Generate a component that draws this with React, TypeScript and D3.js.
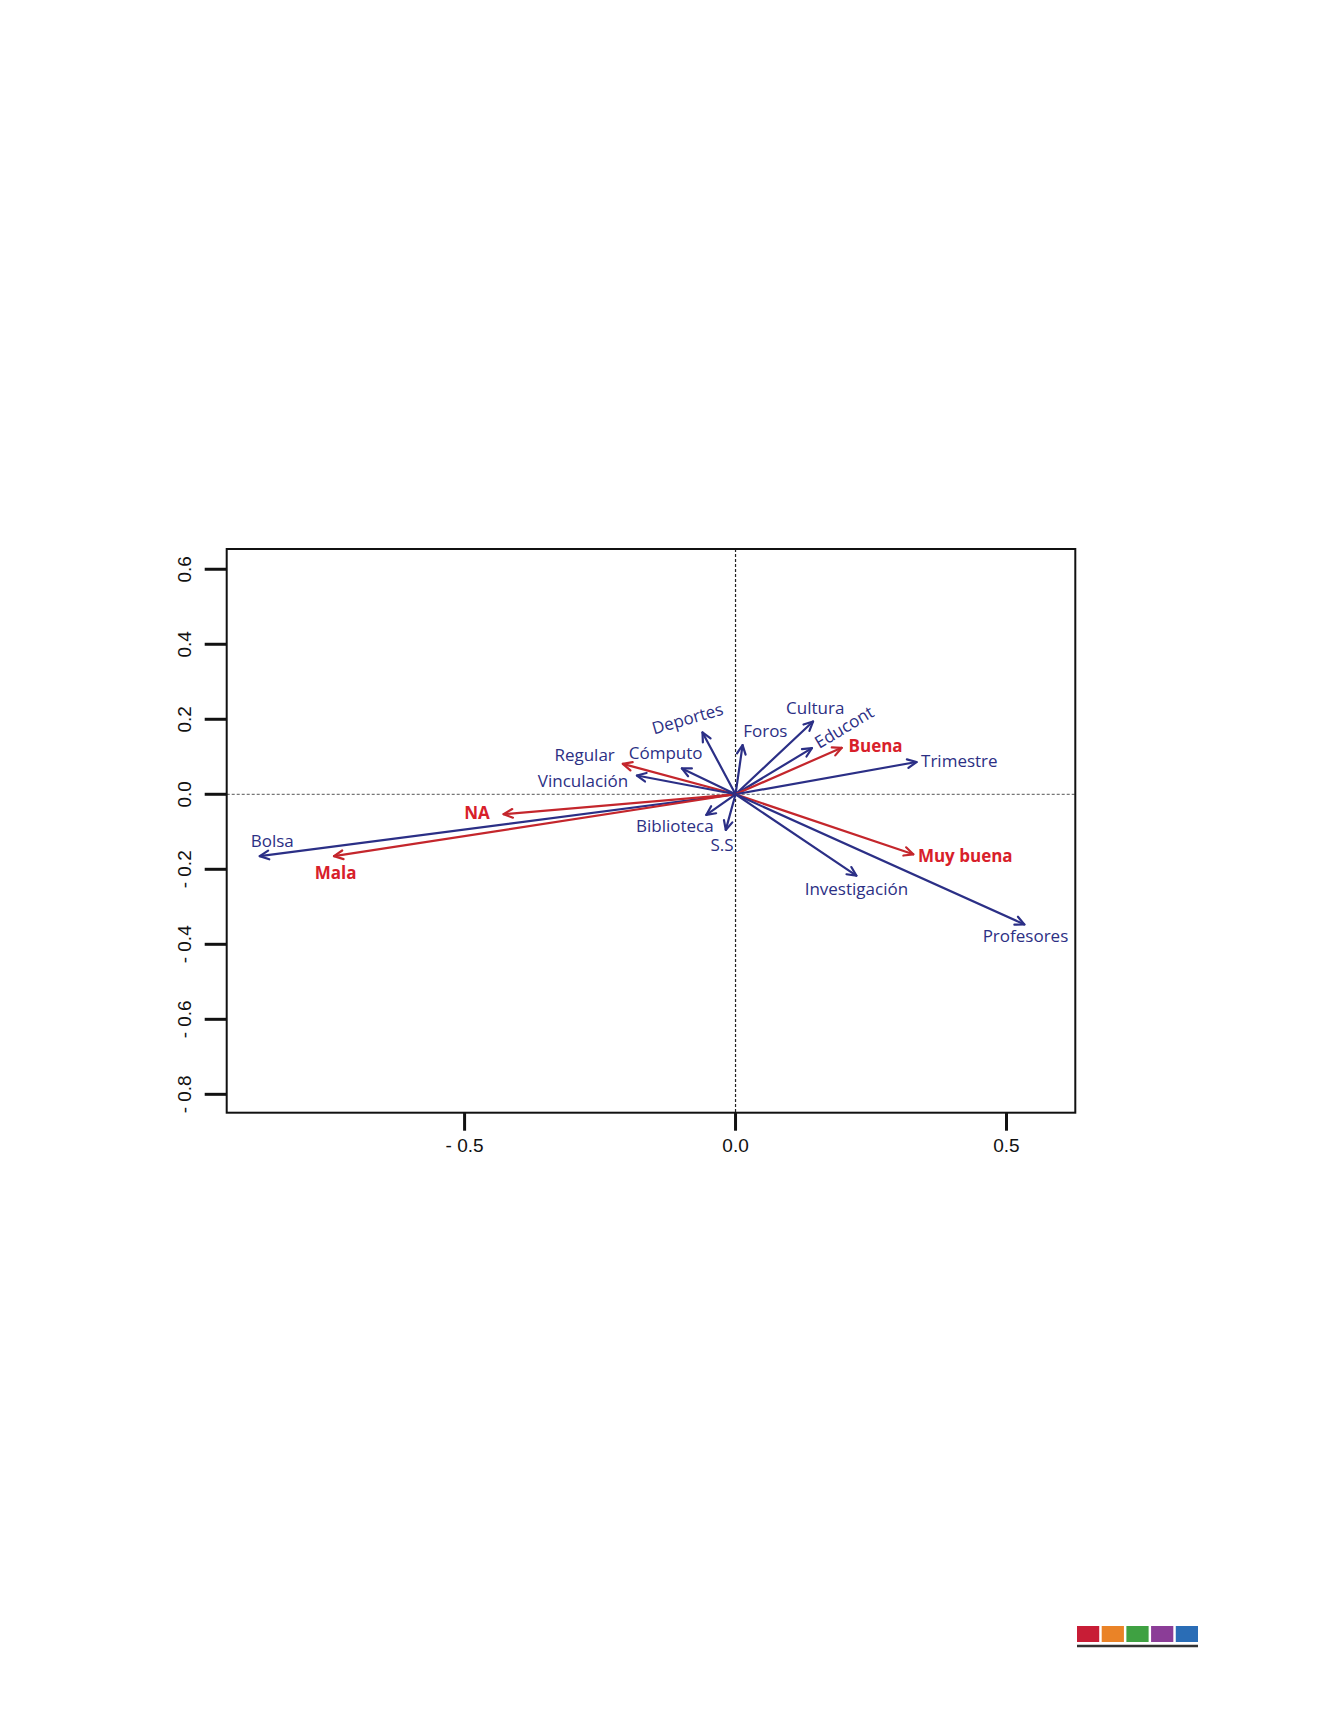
import React from 'react'
import * as d3 from 'd3'

// variables (blue) and answer categories (red) of the biplot
const names = ['Bolsa', 'Mala', 'NA', 'Regular', 'Vinculación', 'Cómputo', 'Deportes', 'Foros', 'Biblioteca', 'S.S',
  'Cultura', 'Educont', 'Buena', 'Trimestre', 'Muy buena', 'Investigación', 'Profesores']
const arrowGroup = ['var', 'cat', 'cat', 'cat', 'var', 'var', 'var', 'var', 'var', 'var',
  'var', 'var', 'cat', 'var', 'cat', 'var', 'var']
// the label of Regular is printed in blue in the source
const labelGroup = ['var', 'cat', 'cat', 'var', 'var', 'var', 'var', 'var', 'var', 'var',
  'var', 'var', 'cat', 'var', 'cat', 'var', 'var']
const tipX = [-0.878, -0.741, -0.428, -0.208, -0.182, -0.099, -0.061, 0.013, -0.054, -0.018,
  0.143, 0.141, 0.196, 0.334, 0.328, 0.223, 0.533]
const tipY = [-0.165, -0.165, -0.053, 0.081, 0.050, 0.069, 0.165, 0.131, -0.055, -0.095,
  0.194, 0.123, 0.124, 0.086, -0.160, -0.217, -0.347]
// where each label sits (data units) and its tilt
const labelX = [-0.855, -0.738, -0.477, -0.2785, -0.2815, -0.129, -0.089, 0.055, -0.112, -0.025,
  0.147, 0.2, 0.2585, 0.413, 0.424, 0.223, 0.535]
const labelY = [-0.122, -0.209, -0.048, 0.105, 0.038, 0.111, 0.203, 0.171, -0.082, -0.133,
  0.232, 0.18, 0.129, 0.091, -0.162, -0.251, -0.377]
const labelTilt = [0, 0, 0, 0, 0, 0, -16, 0, 0, 0, 0, -31, 0, 0, 0, 0, 0]

const xDomain = [-0.939, 0.627]
const yDomain = [-0.849, 0.654]
const xTicks = [-0.5, 0, 0.5]
const xTickLabels = ['- 0.5', '0.0', '0.5']
const yTicks = [0.6, 0.4, 0.2, 0, -0.2, -0.4, -0.6, -0.8]
const yTickLabels = ['0.6', '0.4', '0.2', '0.0', '- 0.2', '- 0.4', '- 0.6', '- 0.8']

const swatches = ['#c81d36', '#ea8327', '#3fa142', '#8b3d97', '#2a6db6']

const BLUE = '#2b2f86'
const RED = '#c4262c'
const BLUE_TXT = '#2c2f84'
const RED_TXT = '#d8202a'

const App: React.FC = () => {
  const W = 1338
  const H = 1731
  const left = 226.7, right = 1075.3, top = 549, bottom = 1112.7

  const x = d3.scaleLinear().domain(xDomain).range([left, right])
  const y = d3.scaleLinear().domain(yDomain).range([bottom, top])

  const ox = x(0), oy = y(0)
  const headLen = 10
  const headAng = Math.PI / 7

  const sw = d3.scaleBand<number>().domain(d3.range(swatches.length)).range([1077, 1198]).paddingInner(0.1)

  return (
    <svg width={W} height={H} style={{ position: 'absolute', left: 0, top: 0, background: '#fff' }}>
      {/* reference lines */}
      <line x1={left} x2={right} y1={oy} y2={oy} stroke="#777" strokeWidth={1.2} strokeDasharray="3,2" />
      <line x1={ox} x2={ox} y1={top} y2={bottom} stroke="#222" strokeWidth={1.2} strokeDasharray="3,2" />

      {/* arrows */}
      {names.map((n, i) => {
        const tx = x(tipX[i]), ty = y(tipY[i])
        const a = Math.atan2(ty - oy, tx - ox)
        const c = arrowGroup[i] === 'cat' ? RED : BLUE
        const h1 = [tx - headLen * Math.cos(a - headAng), ty - headLen * Math.sin(a - headAng)]
        const h2 = [tx - headLen * Math.cos(a + headAng), ty - headLen * Math.sin(a + headAng)]
        return (
          <g key={'a' + n} stroke={c} strokeWidth={2.2} fill="none" strokeLinecap="round" strokeLinejoin="round">
            <line x1={ox} y1={oy} x2={tx} y2={ty} />
            <polyline points={`${h1[0]},${h1[1]} ${tx},${ty} ${h2[0]},${h2[1]}`} />
          </g>
        )
      })}

      {/* labels */}
      {names.map((n, i) => {
        const lx = x(labelX[i]), ly = y(labelY[i])
        const isCat = labelGroup[i] === 'cat'
        return (
          <text key={'l' + n} x={lx} y={ly} textAnchor="middle" dominantBaseline="central"
            transform={labelTilt[i] ? `rotate(${labelTilt[i]},${lx},${ly})` : undefined}
            fontFamily="'Open Sans', sans-serif" fontSize={17} fontWeight={isCat ? 700 : 500}
            fill={isCat ? RED_TXT : BLUE_TXT}>
            {n}
          </text>
        )
      })}

      {/* frame */}
      <rect x={left} y={top} width={right - left} height={bottom - top} fill="none" stroke="#111" strokeWidth={2} />

      {/* x axis */}
      {xTicks.map((t, i) => (
        <g key={'x' + t}>
          <line x1={x(t)} x2={x(t)} y1={bottom} y2={bottom + 18} stroke="#111" strokeWidth={3} />
          <text x={x(t)} y={bottom + 33} textAnchor="middle" dominantBaseline="central"
            fontFamily="'Liberation Sans', Arial, sans-serif" fontSize={19} fill="#111">{xTickLabels[i]}</text>
        </g>
      ))}

      {/* y axis */}
      {yTicks.map((t, i) => (
        <g key={'y' + t}>
          <line x1={left - 22} x2={left} y1={y(t)} y2={y(t)} stroke="#111" strokeWidth={3} />
          <text x={185} y={y(t)} textAnchor="middle" dominantBaseline="central"
            transform={`rotate(-90,185,${y(t)})`}
            fontFamily="'Liberation Sans', Arial, sans-serif" fontSize={19} fill="#111">{yTickLabels[i]}</text>
        </g>
      ))}

      {/* corner swatches */}
      {swatches.map((c, i) => (
        <rect key={c} x={sw(i)} y={1626} width={sw.bandwidth()} height={16} fill={c} />
      ))}
      <line x1={1077} x2={1198} y1={1646} y2={1646} stroke="#333" strokeWidth={2.5} />
    </svg>
  )
}

export default App
